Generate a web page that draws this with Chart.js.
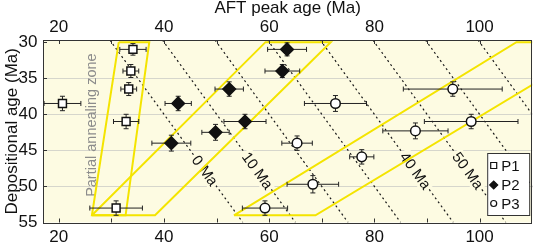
<!DOCTYPE html>
<html>
<head>
<meta charset="utf-8">
<script src="https://cdn.jsdelivr.net/npm/chart.js@4/dist/chart.umd.min.js"></script>
<style>
  html, body { margin: 0; padding: 0; background: #fff; }
  #wrap { width: 540px; height: 244px; }
</style>
</head>
<body>
<div id="wrap"><canvas id="aftChart" width="540" height="244"></canvas></div>
<script>
// AFT peak age vs depositional age
const p1X = [34.1, 33.7, 33.3, 20.7, 32.8, 30.9];
const p1Y = [31, 34, 36.5, 38.5, 41, 53];
const p1XErr = [2.5, 1.5, 1.5, 3.5, 2.4, 5];
const p1YErr = [0.8, 0.9, 0.9, 1, 1, 1];

const p2X = [63.4, 62.5, 52.4, 42.7, 55.4, 49.8, 41.4];
const p2Y = [31, 34, 36.5, 38.5, 41, 42.5, 44];
const p2XErr = [3.7, 3.3, 2.7, 2.5, 4, 2.6, 3.7];
const p2YErr = [0.9, 0.9, 1, 1, 1, 1.1, 1.1];

const p3X = [94.9, 72.6, 98.4, 87.8, 65.3, 77.6, 68.3, 59.2];
const p3Y = [36.5, 38.5, 41, 42.3, 44, 45.9, 49.7, 53];
const p3XErr = [9.4, 5.9, 8.9, 6.2, 2.9, 2.3, 4.9, 4.3];
const p3YErr = [1, 1.1, 1, 1.1, 1, 1, 1.2, 1];

// partial annealing zones (closed outlines)
const zoneP1X = [31.4, 37.2, 32.7, 26.3, 31.4];
const zoneP1Y = [30, 30, 54, 54, 30];
const zoneP2X = [26.3, 38.3, 71.7, 59.3, 26.3];
const zoneP2Y = [54, 54, 30, 30, 54];
const zoneP3X = [53.3, 68.8, 123.5, 107, 53.3];
const zoneP3Y = [54, 54, 30, 30, 54];

// lag-time isochrons: AFT age = depositional age + lag
const lagTimes = [0, 10, 20, 30, 40, 50, 60, 70];
const lagLabelled = [0, 10, 40, 50];
const lagLabelY = 47.8;
const isoYRange = [29.7, 55];

const xTickLabels = [20, 40, 60, 80, 100];
const xMinorTicks = [20, 30, 40, 50, 60, 70, 80, 90, 100];
const yTicks = [30, 35, 40, 45, 50, 55];

const FONT = "'Liberation Sans', Arial, sans-serif";
const BG = '#fdfbe2';
const YELLOW = '#f4e400';

const pts = (xs, ys) => xs.map((v, i) => ({ x: v, y: ys[i] }));

const groups = [
  [p1X, p1Y, p1XErr, p1YErr],
  [p2X, p2Y, p2XErr, p2YErr],
  [p3X, p3Y, p3XErr, p3YErr]
];

function drawErrorBars(chart) {
  const { ctx, chartArea: a, scales: { x, y } } = chart;
  ctx.save();
  ctx.beginPath();
  ctx.rect(a.left, a.top, a.right - a.left, a.bottom - a.top);
  ctx.clip();
  ctx.strokeStyle = '#222';
  ctx.lineWidth = 1;
  groups.forEach(([xs, ys, xe, ye]) => {
    xs.forEach((v, i) => {
      const px = x.getPixelForValue(v), py = y.getPixelForValue(ys[i]);
      const x0 = x.getPixelForValue(v - xe[i]), x1 = x.getPixelForValue(v + xe[i]);
      const y0 = y.getPixelForValue(ys[i] - ye[i]), y1 = y.getPixelForValue(ys[i] + ye[i]);
      ctx.beginPath();
      ctx.moveTo(x0, py); ctx.lineTo(x1, py);
      ctx.moveTo(x0, py - 2.5); ctx.lineTo(x0, py + 2.5);
      ctx.moveTo(x1, py - 2.5); ctx.lineTo(x1, py + 2.5);
      ctx.moveTo(px, y0); ctx.lineTo(px, y1);
      ctx.moveTo(px - 2.5, y0); ctx.lineTo(px + 2.5, y0);
      ctx.moveTo(px - 2.5, y1); ctx.lineTo(px + 2.5, y1);
      ctx.stroke();
    });
  });
  ctx.restore();
}

function drawLabels(chart) {
  const { ctx, scales: { x, y } } = chart;
  ctx.save();
  ctx.font = '15px ' + FONT;
  ctx.textAlign = 'center';
  ctx.textBaseline = 'middle';
  lagLabelled.forEach(lag => {
    const yv = lagLabelY, xv = yv + lag;
    const px = x.getPixelForValue(xv), py = y.getPixelForValue(yv);
    const ang = Math.atan2(y.getPixelForValue(yv + 1) - py, x.getPixelForValue(xv + 1) - px);
    const txt = lag + ' Ma';
    const w = ctx.measureText(txt).width;
    ctx.save();
    ctx.translate(px, py);
    ctx.rotate(ang);
    ctx.fillStyle = BG;
    ctx.fillRect(-w / 2 - 2, -8, w + 4, 16);
    ctx.fillStyle = '#111';
    ctx.fillText(txt, 0, 1);
    ctx.restore();
  });
  // zone caption
  ctx.save();
  ctx.font = '14.5px ' + FONT;
  ctx.fillStyle = '#8c8c8c';
  ctx.translate(x.getPixelForValue(26.3), y.getPixelForValue(41.5));
  ctx.rotate(-Math.PI / 2);
  ctx.fillText('Partial annealing zone', 0, 0);
  ctx.restore();
  ctx.restore();
}

function drawLegend(chart) {
  const { ctx, chartArea: a } = chart;
  const L = a.right - 45, T = a.bottom - 69.5, W = 42, H = 62;
  ctx.save();
  ctx.fillStyle = '#fff';
  ctx.fillRect(L, T, W, H);
  ctx.strokeStyle = '#333';
  ctx.lineWidth = 1;
  ctx.strokeRect(L + 0.5, T + 0.5, W, H);
  const names = ['P1', 'P2', 'P3'];
  const rows = [12.5, 32, 50.5];
  ctx.font = '15px ' + FONT;
  ctx.textBaseline = 'middle';
  ctx.textAlign = 'left';
  rows.forEach((r, i) => {
    const mx = L + 6.5, my = T + r;
    ctx.beginPath();
    if (i === 0) ctx.rect(mx - 3, my - 3, 6, 6);
    else if (i === 1) { ctx.moveTo(mx - 4, my); ctx.lineTo(mx, my - 4); ctx.lineTo(mx + 4, my); ctx.lineTo(mx, my + 4); ctx.closePath(); }
    else ctx.arc(mx, my, 3, 0, Math.PI * 2);
    ctx.fillStyle = i === 1 ? '#111' : '#fff';
    ctx.fill();
    ctx.strokeStyle = '#111';
    ctx.lineWidth = 1.2;
    ctx.stroke();
    ctx.fillStyle = '#111';
    ctx.fillText(names[i], L + 14, my + 1);
  });
  ctx.restore();
}

let labelsDone = false;
const decor = {
  id: 'decor',
  beforeDraw(chart) {
    const { ctx, chartArea: a } = chart;
    ctx.save();
    ctx.fillStyle = BG;
    ctx.fillRect(a.left, a.top, a.right - a.left, a.bottom - a.top);
    ctx.restore();
  },
  beforeDatasetsDraw() { labelsDone = false; },
  beforeDatasetDraw(chart, args) {
    const role = chart.data.datasets[args.index].role;
    if (role === 'zone' && !labelsDone) { drawLabels(chart); labelsDone = true; }
    if (args.index === 2) drawErrorBars(chart);
  },
  afterDatasetsDraw(chart) {
    const { ctx, chartArea: a, scales: { x, y } } = chart;
    ctx.save();
    ctx.strokeStyle = '#333';
    ctx.lineWidth = 1;
    ctx.beginPath();
    xMinorTicks.forEach(v => {
      const px = Math.round(x.getPixelForValue(v)) + 0.5;
      ctx.moveTo(px, a.top); ctx.lineTo(px, a.top + 4);
      ctx.moveTo(px, a.bottom); ctx.lineTo(px, a.bottom - 4);
    });
    yTicks.forEach(v => {
      const py = Math.round(y.getPixelForValue(v)) + 0.5;
      ctx.moveTo(a.left, py); ctx.lineTo(a.left + 4, py);
    });
    ctx.stroke();
    ctx.strokeRect(Math.round(a.left) + 0.5, Math.round(a.top) + 0.5,
      Math.round(a.right - a.left) - 1, Math.round(a.bottom - a.top));
    ctx.restore();
    drawLegend(chart);
  }
};

const pointSets = [
  { label: 'P1', data: pts(p1X, p1Y), pointStyle: 'rect', pointRadius: 5.6, backgroundColor: '#fff' },
  { label: 'P2', data: pts(p2X, p2Y), pointStyle: 'rectRot', pointRadius: 6.3, backgroundColor: '#111' },
  { label: 'P3', data: pts(p3X, p3Y), pointStyle: 'circle', pointRadius: 4.8, backgroundColor: '#fff' }
].map(d => Object.assign(d, { borderColor: '#111', borderWidth: 1.5, pointHoverRadius: d.pointRadius, order: 0, role: 'pts' }));

const zoneSets = [[zoneP1X, zoneP1Y], [zoneP2X, zoneP2Y], [zoneP3X, zoneP3Y]].map(([xs, ys]) => ({
  type: 'line', data: pts(xs, ys), borderColor: YELLOW, borderWidth: 2, pointRadius: 0,
  fill: false, tension: 0, borderJoinStyle: 'miter', order: 1, role: 'zone'
}));

const lagSets = lagTimes.map(lag => ({
  type: 'line',
  data: isoYRange.map(v => ({ x: v + lag, y: v })),
  borderColor: '#1a1a1a', borderWidth: 1.2, borderDash: [2, 3], pointRadius: 0,
  fill: false, tension: 0, order: 2, role: 'lag'
}));

const tickFont = { family: FONT, size: 17 };

new Chart(document.getElementById('aftChart'), {
  type: 'scatter',
  data: { datasets: [...pointSets, ...zoneSets, ...lagSets] },
  options: {
    responsive: false,
    animation: false,
    devicePixelRatio: 1,
    layout: { padding: { left: 0, right: 2, top: 0, bottom: 0 } },
    plugins: { legend: { display: false }, tooltip: { enabled: false } },
    scales: {
      x: {
        type: 'linear', position: 'bottom', min: 17, max: 110,
        afterBuildTicks: s => { s.ticks = xTickLabels.map(v => ({ value: v })); },
        afterFit: s => { s.height = 21.5; },
        ticks: { font: tickFont, color: '#111', padding: 4.5, autoSkip: false, maxRotation: 0 },
        grid: { drawOnChartArea: false, drawTicks: false },
        border: { display: false }
      },
      x2: {
        type: 'linear', position: 'top', min: 17, max: 110,
        afterBuildTicks: s => { s.ticks = xTickLabels.map(v => ({ value: v })); },
        afterFit: s => { s.height = 40; },
        ticks: { font: tickFont, color: '#111', padding: 2, autoSkip: false, maxRotation: 0 },
        grid: { drawOnChartArea: false, drawTicks: false },
        border: { display: false },
        title: { display: true, text: 'AFT peak age (Ma)', font: { family: FONT, size: 17, lineHeight: 1 }, color: '#111', padding: 0 }
      },
      y: {
        type: 'linear', reverse: true, min: 29.7, max: 55,
        afterBuildTicks: s => { s.ticks = yTicks.map(v => ({ value: v })); },
        afterFit: s => { s.width = 43; },
        ticks: { font: tickFont, color: '#111', padding: 5.5 },
        grid: {
          drawTicks: false,
          color: c => (c.tick && (c.tick.value === 30 || c.tick.value === 55)) ? 'rgba(0,0,0,0)' : '#d6d6cc'
        },
        border: { display: false },
        title: { display: true, text: 'Depositional age (Ma)', font: { family: FONT, size: 17 }, color: '#111', padding: { top: 2, bottom: 0 } }
      }
    }
  },
  plugins: [decor]
});
</script>
</body>
</html>
